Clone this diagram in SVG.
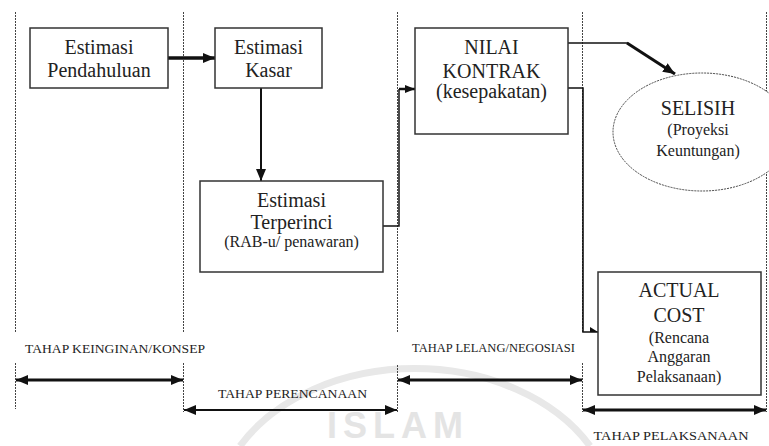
<svg xmlns="http://www.w3.org/2000/svg" width="769" height="446" viewBox="0 0 769 446">
  <style>
    .bg { fill: #ffffff; }
    .phase { stroke: #444; stroke-width: 1; stroke-dasharray: 2 1; fill: none; }
    .box { fill: #ffffff; stroke: #333; stroke-width: 1.5; }
    .oval { fill: #ffffff; stroke: #444; stroke-width: 1; stroke-dasharray: 2 1; }
    text { font-family: 'Liberation Serif', 'Times New Roman', Times, serif; }
    .t { fill: #222; text-anchor: middle; }
    .big { font-size: 20px; }
    .small { font-size: 16px; }
    .lbl { font-size: 13.5px; fill: #222; text-anchor: middle; }
    .ln { fill: none; stroke: #111; }
    .mark { fill: #e4e4e4; font-family: 'Liberation Sans', Arial, sans-serif; font-weight: bold; }
  </style>
  <defs>
    <marker id="head" viewBox="0 0 12 10" refX="12" refY="5" markerWidth="12" markerHeight="10" markerUnits="userSpaceOnUse" orient="auto-start-reverse">
      <path d="M0,0 L12,5 L0,10 z" fill="#111"/>
    </marker>
    <marker id="headSmall" viewBox="0 0 10 8" refX="10" refY="4" markerWidth="10" markerHeight="8" markerUnits="userSpaceOnUse" orient="auto">
      <path d="M0,0 L10,4 L0,8 z" fill="#111"/>
    </marker>
    <marker id="headTiny" viewBox="0 0 8 6" refX="8" refY="6" markerWidth="8" markerHeight="6" markerUnits="userSpaceOnUse" orient="auto">
      <path d="M0,1 L8,6 L0,6 z" fill="#111"/>
    </marker>
  </defs>

  <rect class="bg" x="0" y="0" width="769" height="446"/>

  <!-- faint background emblem -->
  <g id="emblem">
    <path d="M240,446 A200,150 0 0 1 590,446" fill="none" stroke="#e8e8e8" stroke-width="7"/>
    <text x="398" y="438" font-size="36" letter-spacing="6" text-anchor="middle" class="mark">ISLAM</text>
  </g>

  <!-- phase boundaries -->
  <g id="phases">
    <line class="phase" x1="15.5" y1="12" x2="15.5" y2="332"/>
    <line class="phase" x1="15.5" y1="363" x2="15.5" y2="409"/>
    <line class="phase" x1="183.5" y1="12" x2="183.5" y2="332"/>
    <line class="phase" x1="183.5" y1="363" x2="183.5" y2="412"/>
    <line class="phase" x1="397.5" y1="12" x2="397.5" y2="332"/>
    <line class="phase" x1="397.5" y1="365" x2="397.5" y2="413"/>
    <line class="phase" x1="582.5" y1="12" x2="582.5" y2="332"/>
    <line class="phase" x1="582.5" y1="363" x2="582.5" y2="412"/>
    <line class="phase" x1="766.5" y1="12" x2="766.5" y2="412"/>
  </g>

  <!-- connectors -->
  <g id="connectors">
    <path class="ln" d="M168,58 H215" stroke-width="3.5" marker-end="url(#head)"/>
    <path class="ln" d="M261,88 V181" stroke-width="2" marker-end="url(#head)"/>
    <path class="ln" d="M383,226 H399 V89" stroke-width="1.5" stroke="#333"/>
    <path class="ln" d="M399,89 H415" stroke-width="2.5" marker-end="url(#headSmall)"/>
    <path class="ln" d="M568,43 H628" stroke-width="1.5" stroke="#333"/>
    <path class="ln" d="M627,43 L675,74" stroke-width="3" marker-end="url(#head)"/>
    <path class="ln" d="M568,88 H583 V332 H598" stroke-width="1.6" marker-end="url(#headTiny)"/>
    <!-- phase spans -->
    <path class="ln" d="M16,380 H183" stroke-width="3" marker-start="url(#head)" marker-end="url(#head)"/>
    <path class="ln" d="M184,410 H397" stroke-width="2" marker-start="url(#head)" marker-end="url(#head)"/>
    <path class="ln" d="M398,380 H582" stroke-width="3" marker-start="url(#head)" marker-end="url(#head)"/>
    <path class="ln" d="M583,410 H766" stroke-width="3" marker-start="url(#head)" marker-end="url(#head)"/>
  </g>

  <g id="estimasi-pendahuluan">
    <rect class="box" x="30" y="28" width="138" height="60"/>
    <text class="t big" x="99" y="54">Estimasi</text>
    <text class="t big" x="99" y="77">Pendahuluan</text>
  </g>

  <g id="estimasi-kasar">
    <rect class="box" x="215" y="28" width="107" height="60"/>
    <text class="t big" x="268.5" y="54">Estimasi</text>
    <text class="t big" x="268.5" y="77">Kasar</text>
  </g>

  <g id="estimasi-terperinci">
    <rect class="box" x="200" y="181" width="183" height="91"/>
    <text class="t big" x="291.5" y="207">Estimasi</text>
    <text class="t big" x="291.5" y="229">Terperinci</text>
    <text class="t small" x="291.5" y="247">(RAB-u/ penawaran)</text>
  </g>

  <g id="nilai-kontrak">
    <rect class="box" x="415" y="28" width="153" height="106"/>
    <text class="t big" x="491.5" y="54">NILAI</text>
    <text class="t big" x="491.5" y="78">KONTRAK</text>
    <text class="t big" x="491.5" y="98">(kesepakatan)</text>
  </g>

  <g id="selisih">
    <ellipse class="oval" cx="702" cy="132" rx="89" ry="59"/>
    <text class="t big" x="698" y="115">SELISIH</text>
    <text class="t small" x="698" y="135">(Proyeksi</text>
    <text class="t small" x="698" y="156">Keuntungan)</text>
  </g>

  <g id="actual-cost">
    <rect class="box" x="598" y="272" width="163" height="123"/>
    <text class="t big" x="679" y="297">ACTUAL</text>
    <text class="t big" x="679" y="322">COST</text>
    <text class="t small" x="679" y="343">(Rencana</text>
    <text class="t small" x="679" y="362">Anggaran</text>
    <text class="t small" x="679" y="382">Pelaksanaan)</text>
  </g>

  <g id="labels">
    <text class="lbl" x="115" y="353" textLength="180" lengthAdjust="spacingAndGlyphs">TAHAP KEINGINAN/KONSEP</text>
    <text class="lbl" x="292.5" y="398" textLength="149" lengthAdjust="spacingAndGlyphs">TAHAP PERENCANAAN</text>
    <text class="lbl" x="493.5" y="352" textLength="163" lengthAdjust="spacingAndGlyphs">TAHAP LELANG/NEGOSIASI</text>
    <text class="lbl" x="671" y="440" textLength="155" lengthAdjust="spacingAndGlyphs">TAHAP PELAKSANAAN</text>
  </g>
</svg>
